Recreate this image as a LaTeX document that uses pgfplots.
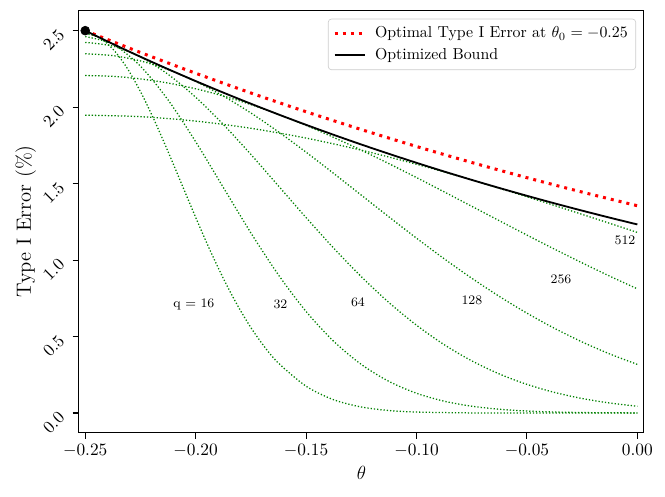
\documentclass[border=0pt]{standalone}
\usepackage{pgfplots}
\pgfplotsset{compat=1.18}
\definecolor{mplgreen}{RGB}{0,128,0}
\definecolor{mplred}{RGB}{255,0,0}
\begin{document}
\begin{tikzpicture}
\begin{axis}[
  scale only axis,
  width=356.3pt, height=265.8pt,
  xmin=-0.25285, xmax=0.0029,
  ymin=-0.126, ymax=2.629,
  xtick={-0.25,-0.2,-0.15,-0.1,-0.05,0},
  xticklabels={$-0.25$,$-0.20$,$-0.15$,$-0.10$,$-0.05$,$0.00$},
  ytick={0,0.5,1,1.5,2,2.5},
  yticklabels={$0.0$,$0.5$,$1.0$,$1.5$,$2.0$,$2.5$},
  tick pos=left,
  tick align=outside,
  major tick length=4pt,
  every tick/.style={black, line width=0.7pt},
  axis line style={line width=0.7pt},
  ticklabel style={font=\fontsize{11.3}{13}\selectfont},
  yticklabel style={xshift=-4.5pt, yshift=1.5pt, rotate=45, anchor=east},
  xlabel={$\theta$},
  ylabel={Type I Error (\%)},
  label style={font=\fontsize{13}{15}\selectfont},
  xlabel style={at={(axis description cs:0.5,-0.0975)}, anchor=center},
  ylabel style={at={(axis description cs:-0.094,0.5)}, anchor=center},
  legend style={at={(1,1)}, anchor=north east, xshift=-4.9pt, yshift=-4.9pt,
    draw=black!20, rounded corners=2pt, fill=white,
    font=\fontsize{10}{12}\selectfont, inner xsep=3pt, inner ysep=2.8pt,
    row sep=1.3pt,
    /tikz/every odd column/.append style={column sep=3.6pt}},
  legend cell align=left,
  legend image code/.code={\draw[#1] (0pt,0pt) -- (19pt,0pt);},
]
% q = 16
\addplot[mplgreen, line width=0.8pt, dash pattern=on 0.8pt off 1.25pt, smooth, forget plot] coordinates {
(-0.25,2.4806) (-0.24375,2.4551) (-0.2375,2.3800) (-0.23125,2.2600) (-0.225,2.1021)
(-0.21875,1.9150) (-0.2125,1.7088) (-0.20625,1.4938) (-0.2,1.2790) (-0.19375,1.0726)
(-0.1875,0.8811) (-0.18125,0.7089) (-0.175,0.5587) (-0.16875,0.4313) (-0.1625,0.3262)
(-0.15,0.1753) (-0.1375,0.0867) (-0.125,0.0395) (-0.1125,0.0165) (-0.1,0.0064)
(-0.075,0.0007) (-0.05,0.0000) (0,0.0000)};
% q = 32
\addplot[mplgreen, line width=0.8pt, dash pattern=on 0.8pt off 1.25pt, smooth, forget plot] coordinates {
(-0.25,2.4613) (-0.2375,2.4114) (-0.225,2.2678) (-0.2125,2.0472) (-0.2,1.7738)
(-0.1875,1.4754) (-0.175,1.1780) (-0.1625,0.9028) (-0.15,0.6641) (-0.1375,0.4689)
(-0.125,0.3178) (-0.1125,0.2068) (-0.1,0.1292) (-0.0875,0.0774) (-0.075,0.0446)
(-0.0625,0.0246) (-0.05,0.0130) (-0.0375,0.0066) (-0.025,0.0032) (-0.0125,0.0015) (0,0.0007)};
% q = 64
\addplot[mplgreen, line width=0.8pt, dash pattern=on 0.8pt off 1.25pt, smooth, forget plot] coordinates {
(-0.25,2.4232) (-0.2375,2.3991) (-0.225,2.3282) (-0.2125,2.2146) (-0.2,2.0649)
(-0.1875,1.8872) (-0.175,1.6906) (-0.1625,1.4845) (-0.15,1.2777) (-0.1375,1.0780)
(-0.125,0.8915) (-0.1125,0.7226) (-0.1,0.5741) (-0.0875,0.4471) (-0.075,0.3413)
(-0.0625,0.2554) (-0.05,0.1873) (-0.0375,0.1347) (-0.025,0.0949) (-0.0125,0.0655) (0,0.0444)};
% q = 128
\addplot[mplgreen, line width=0.8pt, dash pattern=on 0.8pt off 1.25pt, smooth, forget plot] coordinates {
(-0.25,2.3487) (-0.2375,2.3370) (-0.225,2.3022) (-0.2125,2.2453) (-0.2,2.1681)
(-0.1875,2.0727) (-0.175,1.9618) (-0.1625,1.8383) (-0.15,1.7055) (-0.1375,1.5665)
(-0.125,1.4246) (-0.1125,1.2826) (-0.1,1.1432) (-0.0875,1.0089) (-0.075,0.8815)
(-0.0625,0.7625) (-0.05,0.6530) (-0.0375,0.5537) (-0.025,0.4648) (-0.0125,0.3863) (0,0.3179)};
% q = 256
\addplot[mplgreen, line width=0.8pt, dash pattern=on 0.8pt off 1.25pt, smooth, forget plot] coordinates {
(-0.25,2.2066) (-0.2375,2.2011) (-0.225,2.1846) (-0.2125,2.1575) (-0.2,2.1201)
(-0.1875,2.0729) (-0.175,2.0167) (-0.1625,1.9522) (-0.15,1.8804) (-0.1375,1.8021)
(-0.125,1.7185) (-0.1125,1.6306) (-0.1,1.5395) (-0.0875,1.4462) (-0.075,1.3518)
(-0.0625,1.2573) (-0.05,1.1635) (-0.0375,1.0714) (-0.025,0.9816) (-0.0125,0.8949) (0,0.8118)};
% q = 512
\addplot[mplgreen, line width=0.8pt, dash pattern=on 0.8pt off 1.25pt, smooth, forget plot] coordinates {
(-0.25,1.9474) (-0.225,1.9377) (-0.2,1.9088) (-0.175,1.8617) (-0.15,1.7977)
(-0.125,1.7186) (-0.1,1.6266) (-0.075,1.5242) (-0.05,1.4140) (-0.025,1.2988) (0,1.1811)};
% optimal type I error
\addplot[mplred, line width=1.9pt, dash pattern=on 1.9pt off 3.15pt, smooth] coordinates {
(-0.25,2.5000) (-0.225,2.3574) (-0.2,2.2216) (-0.175,2.0927) (-0.15,1.9699)
(-0.125,1.8536) (-0.1,1.7429) (-0.075,1.6382) (-0.05,1.5386) (-0.025,1.4446) (0,1.3553)};
\addlegendentry{Optimal Type I Error at $\theta_0 = -0.25$}
% optimized bound
\addplot[black, line width=1.15pt, smooth] coordinates {
(-0.25,2.5000) (-0.2375,2.4132) (-0.225,2.3294) (-0.2125,2.2485) (-0.2,2.1704)
(-0.1875,2.0951) (-0.175,2.0223) (-0.1625,1.9521) (-0.15,1.8843) (-0.1375,1.8189)
(-0.125,1.7557) (-0.1125,1.6948) (-0.1,1.6359) (-0.0875,1.5791) (-0.075,1.5243)
(-0.0625,1.4714) (-0.05,1.4203) (-0.0375,1.3709) (-0.025,1.3233) (-0.0125,1.2774) (0,1.2330)};
\addlegendentry{Optimized Bound}
\addplot[only marks, mark=*, mark size=2.8pt, black, forget plot] coordinates {(-0.25,2.5)};
\node[font=\fontsize{8.2}{10}\selectfont] at (axis cs:-0.2008,0.712) {q = 16};
\node[font=\fontsize{8.2}{10}\selectfont] at (axis cs:-0.1616,0.712) {32};
\node[font=\fontsize{8.2}{10}\selectfont] at (axis cs:-0.1265,0.723) {64};
\node[font=\fontsize{8.2}{10}\selectfont] at (axis cs:-0.0749,0.734) {128};
\node[font=\fontsize{8.2}{10}\selectfont] at (axis cs:-0.0346,0.874) {256};
\node[font=\fontsize{8.2}{10}\selectfont] at (axis cs:-0.0056,1.126) {512};
\end{axis}
\pgfresetboundingbox
\path ([xshift=-49.8pt,yshift=-40.8pt]current axis.south west) rectangle ([xshift=13.4pt,yshift=6.9pt]current axis.north east);
\end{tikzpicture}
\end{document}
